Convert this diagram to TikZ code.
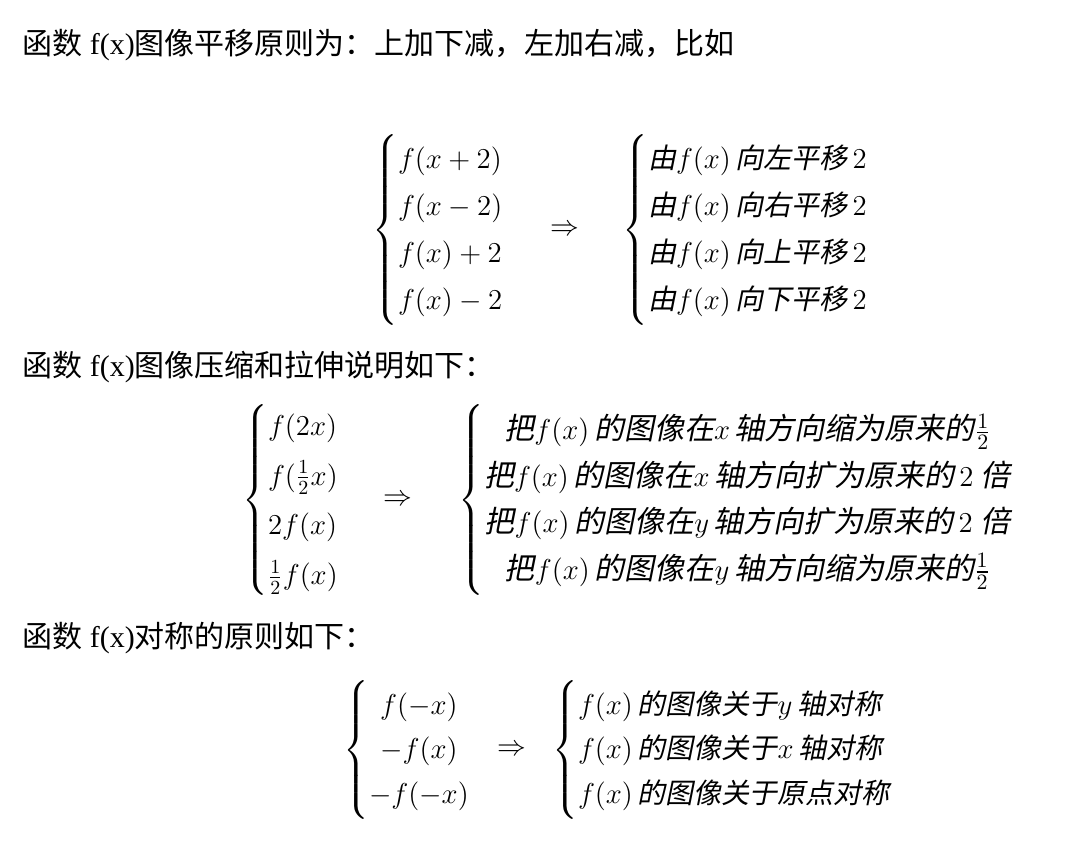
\documentclass[tikz,border=0pt]{standalone}
\usepackage{amsmath}
\usepackage{fontspec}
\setmainfont{Liberation Serif}
\newfontfamily\cjk{Noto Sans CJK SC}
\newfontfamily\cjkit[FakeSlant=0.2]{Noto Sans CJK SC}
\newcommand{\zh}[1]{\text{\cjkit #1}}
\begin{document}
\begin{tikzpicture}[x=0.5pt,y=-0.5pt,
  txt/.style={anchor=west,inner sep=0pt,font=\fontsize{15}{18}\selectfont},
  grp/.style={anchor=west,inner sep=0pt,font=\fontsize{14}{17}\selectfont}]
\useasboundingbox (0,0) rectangle (1080,854);
\node[txt] (h1) at (22,45) {{\cjk 函数} f(x){\cjk 图像平移原则为：上加下减，左加右减，比如}};
\node[grp] (g1l) at (372,230) {\renewcommand{\arraystretch}{1.38}$\left\{\begin{array}{@{}l@{}}f(x+2)\\ f(x-2)\\ f(x)+2\\ f(x)-2\end{array}\right.$};
\node[grp] (a1) at (550,230) {$\Rightarrow$};
\node[grp] (g1r) at (622,230) {\renewcommand{\arraystretch}{1.38}$\left\{\begin{array}{@{}l@{}}\zh{由}f(x)\,\zh{向左平移}\,2\\ \zh{由}f(x)\,\zh{向右平移}\,2\\ \zh{由}f(x)\,\zh{向上平移}\,2\\ \zh{由}f(x)\,\zh{向下平移}\,2\end{array}\right.$};
\node[txt] (h2) at (22,367) {{\cjk 函数} f(x){\cjk 图像压缩和拉伸说明如下：}};
\node[grp] (g2l) at (242,500) {\renewcommand{\arraystretch}{1.47}$\left\{\begin{array}{@{}l@{}}f(2x)\\ f(\tfrac12x)\\ 2f(x)\\ \tfrac12f(x)\end{array}\right.$};
\node[grp] (a2) at (383,500) {$\Rightarrow$};
\node[grp,font=\fontsize{15}{17}\selectfont] (g2r) at (458,500) {\renewcommand{\arraystretch}{1.37}$\left\{\begin{array}{@{}c@{}}\zh{把}f(x)\,\zh{的图像在}x\,\zh{轴方向缩为原来的}\tfrac12\\ \zh{把}f(x)\,\zh{的图像在}x\,\zh{轴方向扩为原来的}\,2\ \zh{倍}\\ \zh{把}f(x)\,\zh{的图像在}y\,\zh{轴方向扩为原来的}\,2\ \zh{倍}\\ \zh{把}f(x)\,\zh{的图像在}y\,\zh{轴方向缩为原来的}\tfrac12\end{array}\right.$};
\node[txt] (h3) at (22,638) {{\cjk 函数} f(x){\cjk 对称的原则如下：}};
\node[grp] (g3l) at (343,750) {\renewcommand{\arraystretch}{1.32}$\left\{\begin{array}{@{}c@{}}f(-x)\\ -f(x)\\ -f(-x)\end{array}\right.$};
\node[grp] (a3) at (497,750) {$\Rightarrow$};
\node[grp] (g3r) at (552,750) {\renewcommand{\arraystretch}{1.32}$\left\{\begin{array}{@{}l@{}}f(x)\,\zh{的图像关于}y\,\zh{轴对称}\\ f(x)\,\zh{的图像关于}x\,\zh{轴对称}\\ f(x)\,\zh{的图像关于原点对称}\end{array}\right.$};
\end{tikzpicture}
\end{document}
